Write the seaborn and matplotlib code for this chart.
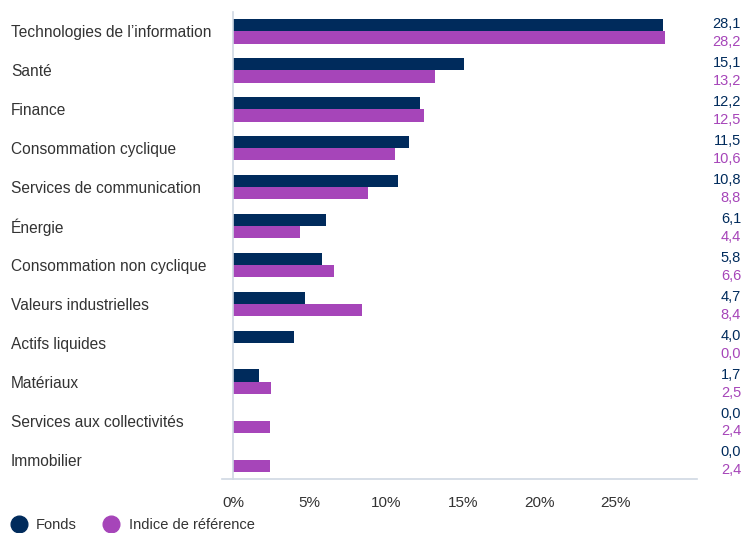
import numpy as np
import pandas as pd
import matplotlib
matplotlib.use("Agg")
import matplotlib.pyplot as plt
import matplotlib.transforms as mtransforms
from matplotlib.lines import Line2D
import seaborn as sns

secteurs = [
    "Technologies de l’information", "Santé", "Finance", "Consommation cyclique",
    "Services de communication", "Énergie", "Consommation non cyclique",
    "Valeurs industrielles", "Actifs liquides", "Matériaux",
    "Services aux collectivités", "Immobilier",
]
fonds = [28.1, 15.1, 12.2, 11.5, 10.8, 6.1, 5.8, 4.7, 4.0, 1.7, 0.0, 0.0]
indice = [28.2, 13.2, 12.5, 10.6, 8.8, 4.4, 6.6, 8.4, 0.0, 2.5, 2.4, 2.4]
series = ["Fonds", "Indice de référence"]
x_ticks = [0, 5, 10, 15, 20, 25]

BLEU = "#002b5c"
VIOLET = "#a645b9"
GRIS = "#cfd8e3"
TEXTE = "#333333"

df = pd.DataFrame({
    "secteur": secteurs * 2,
    "valeur": fonds + indice,
    "serie": [series[0]] * len(secteurs) + [series[1]] * len(secteurs),
})

sns.set_style("white")
plt.rcParams["font.family"] = ["Liberation Sans", "DejaVu Sans"]

W, H = 743, 533
fig = plt.figure(figsize=(W / 100, H / 100), dpi=100)
ax = fig.add_axes([222 / W, 1 - 479 / H, (697 - 222) / W, (479 - 12) / H])

sns.barplot(data=df, y="secteur", x="valeur", hue="serie", orient="h",
            palette=[BLEU, VIOLET], width=0.63, saturation=1, linewidth=0,
            ax=ax, legend=False)

ax.set_xlim(-0.72, 30.3)
ax.set_ylim(len(secteurs) - 0.5, -0.5)
ax.set_xlabel("")
ax.set_ylabel("")

# axes
for s in ["top", "right"]:
    ax.spines[s].set_visible(False)
ax.spines["left"].set_position(("data", 0))
ax.spines["left"].set_color(GRIS)
ax.spines["bottom"].set_color(GRIS)
ax.spines["left"].set_linewidth(1.2)
ax.spines["bottom"].set_linewidth(1.2)

ax.set_yticks(np.arange(-0.5, len(secteurs), 1.0))
ax.set_yticklabels([])
ax.tick_params(axis="y", length=8, width=1.2, color=GRIS, direction="out")
ax.set_xticks(x_ticks)
ax.set_xticklabels([f"{t}%" for t in x_ticks])
ax.tick_params(axis="x", length=0, pad=12, labelsize=11, labelcolor=TEXTE)

# category labels and values
tr = mtransforms.blended_transform_factory(fig.transFigure, ax.transData)
for i, nom in enumerate(secteurs):
    ax.text(11 / W, i, nom, transform=tr, ha="left", va="center_baseline",
            fontsize=11.2, color=TEXTE)
    ax.text(741 / W, i - 0.22, f"{fonds[i]:.1f}".replace(".", ","), transform=tr,
            ha="right", va="center_baseline", fontsize=10.5, color=BLEU)
    ax.text(741 / W, i + 0.24, f"{indice[i]:.1f}".replace(".", ","), transform=tr,
            ha="right", va="center_baseline", fontsize=10.5, color=VIOLET)

# legend
handles = [Line2D([], [], marker="o", linestyle="", markersize=12, color=c)
           for c in [BLEU, VIOLET]]
fig.legend(handles, series, loc="center left", bbox_to_anchor=(12 / W, 1 - 525 / H),
           ncol=2, frameon=False, fontsize=10.5, handletextpad=0.75,
           columnspacing=1.9, borderaxespad=0, borderpad=0, handlelength=0.9,
           labelcolor=TEXTE)

fig.savefig("out.png", dpi=100)
